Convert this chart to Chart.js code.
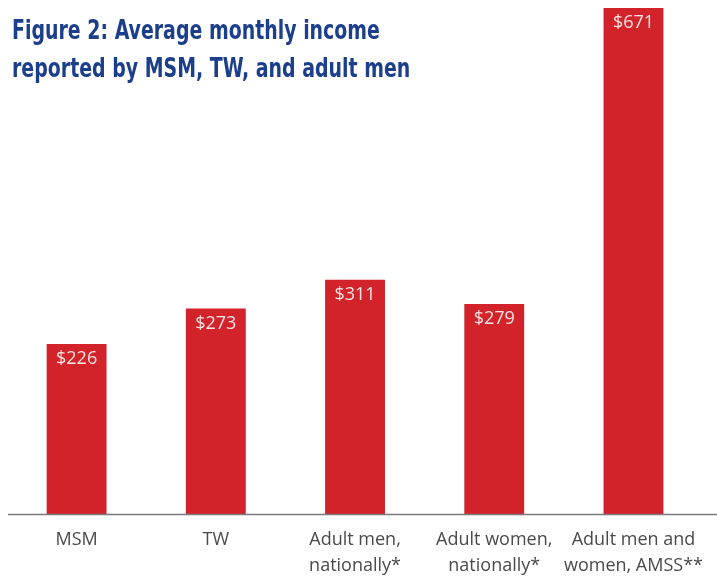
<!DOCTYPE html>
<html>
<head>
<meta charset="utf-8">
<script src="https://cdn.jsdelivr.net/npm/chart.js@4.4.1/dist/chart.umd.min.js"></script>
<style>
  html, body { margin: 0; padding: 0; background: #fff; }
  .wrap { position: relative; width: 717px; height: 577px; }
  .title {
    position: absolute; left: 12px; top: 11px;
    font-family: "DejaVu Sans", sans-serif; font-stretch: condensed;
    font-weight: bold; font-size: 26px; line-height: 38px;
    color: #1c3f8c; transform: scaleX(0.81); transform-origin: 0 0;
    white-space: nowrap;
  }
</style>
</head>
<body>
<div class="wrap">
  <canvas id="incomeChart" width="717" height="577"></canvas>
  <div class="title">Figure 2: Average monthly income<br>reported by MSM, TW, and adult men</div>
</div>
<script>
const categories = [
  ["MSM"],
  ["TW"],
  ["Adult men,", "nationally*"],
  ["Adult women,", "nationally*"],
  ["Adult men and", "women, AMSS**"],
];
const incomeValues = [226, 273, 311, 279, 671];

// value text inside the top of each bar, plus the baseline running to the edge
const valueLabels = {
  id: "valueLabels",
  afterDatasetsDraw(chart) {
    const ctx = chart.ctx;
    const meta = chart.getDatasetMeta(0);
    const zeroY = chart.scales.y.getPixelForValue(0);
    ctx.save();
    ctx.strokeStyle = "#7a7a7a";
    ctx.lineWidth = 1.5;
    ctx.beginPath();
    ctx.moveTo(8, zeroY);
    ctx.lineTo(chart.width, zeroY);
    ctx.stroke();
    ctx.fillStyle = "#fbe3e3";
    ctx.font = "18px 'Open Sans', sans-serif";
    ctx.textAlign = "center";
    ctx.textBaseline = "middle";
    meta.data.forEach((bar, i) => {
      ctx.fillText("$" + incomeValues[i], bar.x, bar.y + 15);
    });
    ctx.restore();
  },
};

const chartEl = document.getElementById("incomeChart");
new Chart(chartEl, {
  type: "bar",
  data: {
    labels: categories,
    datasets: [
      {
        data: incomeValues,
        backgroundColor: "#d2232b",
        barPercentage: 0.43,
        categoryPercentage: 1,
      },
    ],
  },
  options: {
    responsive: false,
    animation: false,
    layout: { padding: { top: 8, left: 7, right: 10, bottom: -14 } },
    plugins: {
      legend: { display: false },
      tooltip: { enabled: false },
    },
    scales: {
      x: {
        grid: { display: false, drawTicks: false },
        border: { display: false },
        ticks: {
          color: "#4a4a4a",
          font: { family: "'Open Sans', sans-serif", size: 18, lineHeight: 1.4 },
          padding: 13,
          maxRotation: 0,
          autoSkip: false,
        },
      },
      y: {
        display: false,
        min: 0,
        max: 671,
      },
    },
  },
  plugins: [valueLabels],
});
</script>
</body>
</html>
